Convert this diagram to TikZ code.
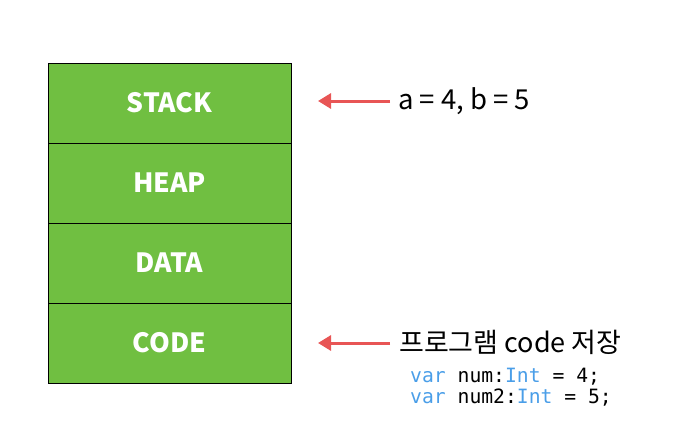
\documentclass[tikz,border=0pt]{standalone}
\usepackage{fontspec}
\setmainfont{Noto Sans CJK KR}
\newfontfamily\codefont{DejaVu Sans Mono}
\usetikzlibrary{arrows.meta}
\definecolor{boxgreen}{HTML}{70BF41}
\definecolor{arrred}{HTML}{E85555}
\definecolor{kwblue}{HTML}{4A9EE8}
\tikzset{
  seg/.style={draw=black, line width=1pt, fill=boxgreen, minimum width=243pt, minimum height=80pt, inner sep=0pt, text=white, font=\fontsize{26.5}{30}\selectfont\bfseries},
  redarrow/.style={draw=arrred, line width=3pt, -{Triangle[length=13pt,width=15pt]}},
  lbl/.style={anchor=west, inner sep=0pt, font=\fontsize{27.5}{32}\selectfont},
  codeline/.style={anchor=west, inner sep=0pt, font=\codefont\fontsize{19.7}{23}\selectfont}
}
\begin{document}
\begin{tikzpicture}[x=1pt,y=-1pt]
\useasboundingbox (0,0) rectangle (700,436);
\node[seg] (stack) at (169.5,103) {STACK};
\node[seg] (heap) at (169.5,183) {HEAP};
\node[seg] (data) at (169.5,263) {DATA};
\node[seg] (code) at (169.5,343) {CODE};
\node[lbl] (ab) at (398,101) {a = 4,\ b = 5};
\node[lbl] (prog) at (399,342) {\fontsize{27}{32}\selectfont 프로그램 code 저장};
\node[codeline] (c1) at (410,377) {\textcolor{kwblue}{var} num:\textcolor{kwblue}{Int} = 4;};
\node[codeline] (c2) at (410,398) {\textcolor{kwblue}{var} num2:\textcolor{kwblue}{Int} = 5;};
\coordinate (a1s) at (390,101);
\coordinate (a1e) at (318,101);
\coordinate (a2s) at (390,343);
\coordinate (a2e) at (318,343);
\draw[redarrow] (a1s) -- (a1e);
\draw[redarrow] (a2s) -- (a2e);
\end{tikzpicture}
\end{document}
